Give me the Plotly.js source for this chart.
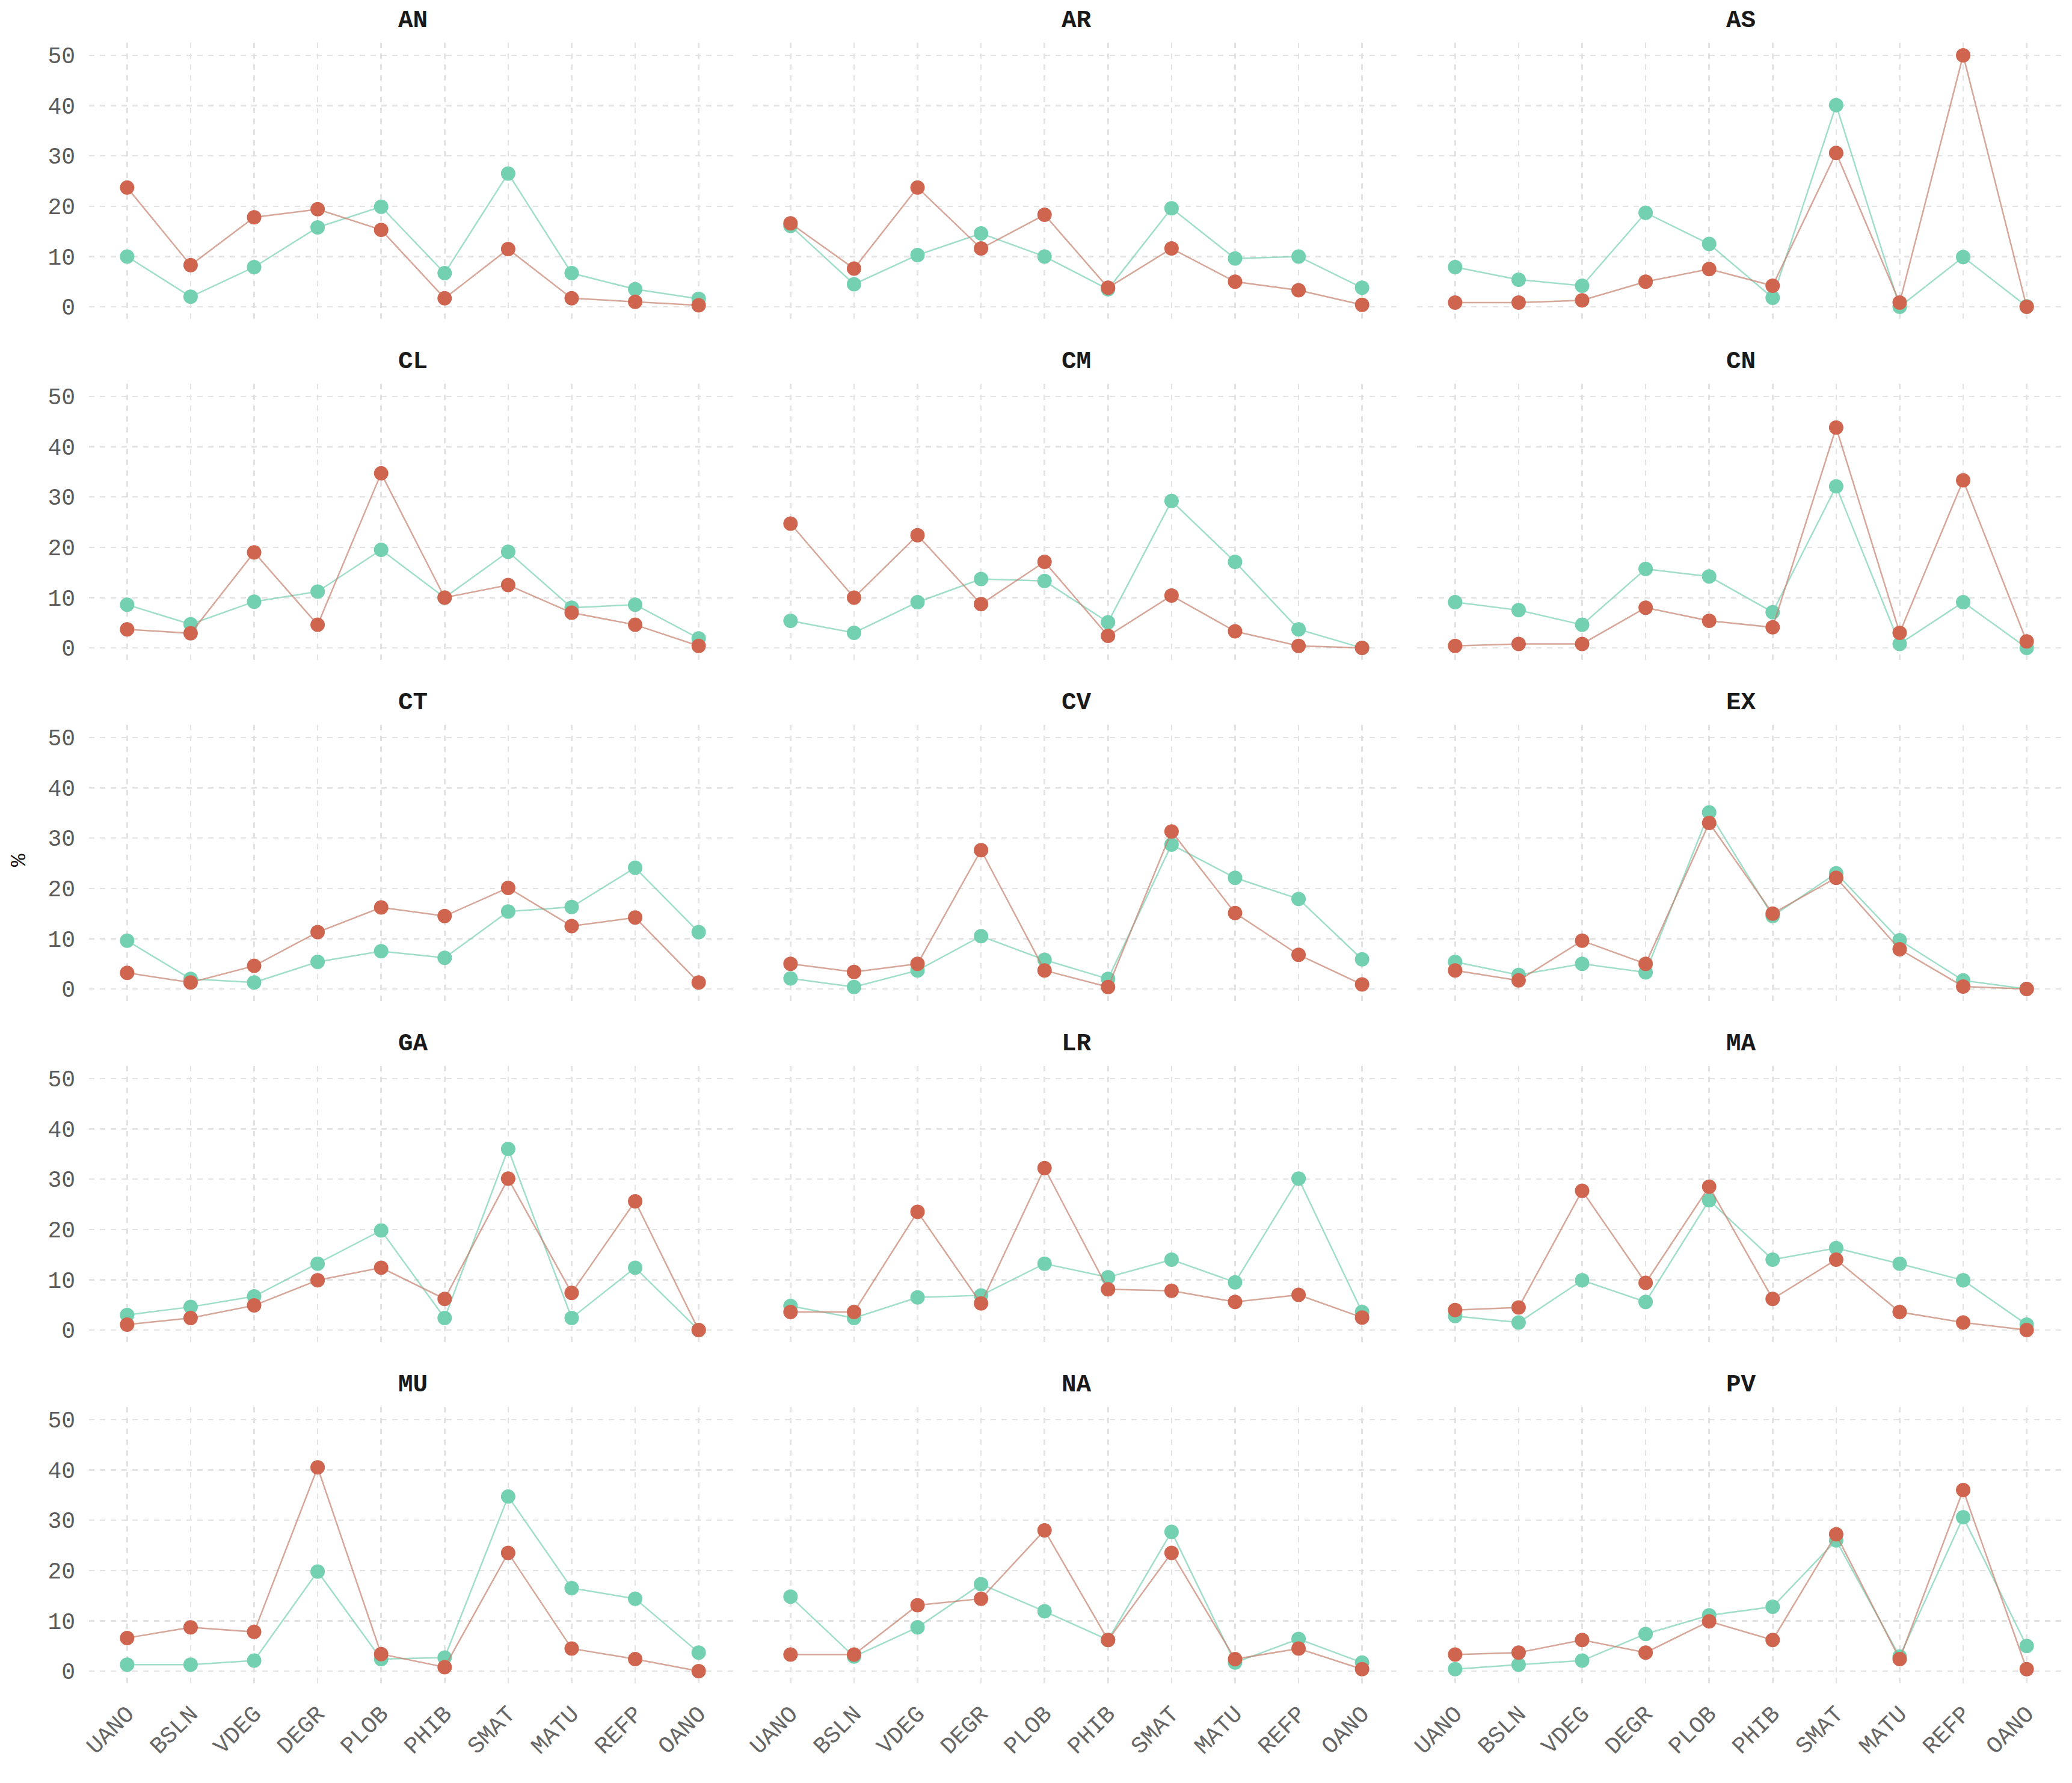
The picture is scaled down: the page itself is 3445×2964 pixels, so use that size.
<!DOCTYPE html>
<html>
<head>
<meta charset="utf-8">
<script src="https://cdn.plot.ly/plotly-3.0.1.min.js"></script>
<style>
  html, body { margin: 0; padding: 0; background: #ffffff; }
  #chart { width: 3445px; height: 2964px; }
</style>
</head>
<body>
<div id="chart"></div>
<script>
const panelNames = ["AN", "AR", "AS", "CL", "CM", "CN", "CT", "CV", "EX", "GA", "LR", "MA", "MU", "NA", "PV"];
const categories = ["UANO", "BSLN", "VDEG", "DEGR", "PLOB", "PHIB", "SMAT", "MATU", "REFP", "OANO"];
const yTicks = [0, 10, 20, 30, 40, 50];

// teal series, one row per panel
const tealValues = [
  [10.0, 2.0, 7.9, 15.8, 19.9, 6.7, 26.5, 6.7, 3.5, 1.6],
  [16.1, 4.5, 10.3, 14.6, 10.0, 3.5, 19.6, 9.6, 10.0, 3.8],
  [7.9, 5.4, 4.2, 18.7, 12.5, 1.8, 40.1, 0.0, 9.9, 0.1],
  [8.6, 4.7, 9.2, 11.2, 19.5, 10.0, 19.1, 8.0, 8.6, 1.9],
  [5.4, 3.0, 9.1, 13.7, 13.3, 5.1, 29.2, 17.1, 3.7, 0.0],
  [9.1, 7.5, 4.6, 15.7, 14.2, 7.1, 32.1, 0.8, 9.1, 0.0],
  [9.6, 2.0, 1.3, 5.4, 7.5, 6.2, 15.4, 16.3, 24.1, 11.3],
  [2.1, 0.4, 3.7, 10.5, 5.8, 2.0, 28.7, 22.1, 17.9, 5.9],
  [5.4, 2.8, 5.0, 3.3, 35.1, 14.5, 23.0, 9.7, 1.7, 0.0],
  [3.0, 4.6, 6.7, 13.2, 19.8, 2.4, 36.0, 2.4, 12.4, 0.0],
  [4.8, 2.4, 6.5, 6.9, 13.2, 10.5, 14.0, 9.5, 30.1, 3.6],
  [2.8, 1.5, 9.9, 5.6, 25.8, 14.0, 16.3, 13.2, 9.9, 1.1],
  [1.3, 1.3, 2.1, 19.8, 2.4, 2.7, 34.7, 16.5, 14.4, 3.7],
  [14.8, 2.9, 8.7, 17.3, 11.9, 6.2, 27.7, 1.7, 6.4, 1.7],
  [0.4, 1.3, 2.1, 7.4, 11.1, 12.8, 26.0, 2.9, 30.6, 5.0]
];

// red series, one row per panel
const redValues = [
  [23.7, 8.3, 17.8, 19.4, 15.3, 1.7, 11.5, 1.7, 1.0, 0.3],
  [16.6, 7.6, 23.7, 11.6, 18.3, 3.8, 11.6, 5.0, 3.3, 0.4],
  [0.85, 0.85, 1.3, 5.0, 7.5, 4.2, 30.6, 0.85, 50.0, 0.0],
  [3.7, 2.9, 19.0, 4.6, 34.7, 10.0, 12.5, 7.0, 4.6, 0.4],
  [24.7, 10.0, 22.4, 8.7, 17.1, 2.4, 10.4, 3.3, 0.4, 0.0],
  [0.4, 0.8, 0.8, 8.0, 5.4, 4.1, 43.8, 3.0, 33.3, 1.3],
  [3.2, 1.3, 4.6, 11.3, 16.2, 14.5, 20.1, 12.5, 14.2, 1.3],
  [5.0, 3.4, 5.0, 27.6, 3.7, 0.4, 31.3, 15.1, 6.8, 0.9],
  [3.7, 1.7, 9.6, 5.0, 33.0, 15.0, 22.1, 7.9, 0.5, 0.0],
  [1.1, 2.4, 4.9, 9.9, 12.4, 6.2, 30.1, 7.4, 25.6, 0.0],
  [3.6, 3.6, 23.5, 5.3, 32.2, 8.1, 7.8, 5.6, 7.0, 2.5],
  [4.0, 4.5, 27.7, 9.4, 28.5, 6.2, 14.0, 3.6, 1.5, 0.0],
  [6.6, 8.7, 7.8, 40.5, 3.4, 0.8, 23.5, 4.5, 2.4, 0.0],
  [3.3, 3.3, 13.1, 14.4, 28.0, 6.2, 23.5, 2.4, 4.5, 0.4],
  [3.3, 3.7, 6.2, 3.7, 9.9, 6.2, 27.2, 2.4, 36.0, 0.4]
];

document.addEventListener("DOMContentLoaded", function () {
  const W = 3445;
  const H = 2964;
  const FONT = "Liberation Mono, Courier New, monospace";

  // panel geometry in pixels
  const colLeft = [148, 1251, 2356];
  const colWidth = 1077;
  const rowTop0 = 71;
  const rowStep = 567;
  const rowHeight = 460;

  const gridStyle = {
    showgrid: true,
    gridcolor: "#e3e3e3",
    griddash: "dash",
    gridwidth: 2.5,
    zeroline: false,
    showline: false,
    ticks: "",
    fixedrange: true,
  };

  const traces = [];
  const annotations = [];
  const layout = {
    width: W,
    height: H,
    margin: { l: 0, r: 0, t: 0, b: 0 },
    paper_bgcolor: "#ffffff",
    plot_bgcolor: "#ffffff",
    showlegend: false,
    font: { family: FONT, size: 38, color: "#4d4d4d" },
  };

  panelNames.forEach(function (name, i) {
    const r = Math.floor(i / 3);
    const c = i % 3;
    const sfx = i === 0 ? "" : String(i + 1);
    const left = colLeft[c];
    const top = rowTop0 + r * rowStep;

    layout["xaxis" + sfx] = Object.assign({}, gridStyle, {
      domain: [left / W, (left + colWidth) / W],
      anchor: "y" + sfx,
      type: "category",
      categoryorder: "array",
      categoryarray: categories,
      range: [-0.6, categories.length - 0.4],
      showticklabels: r === 4,
      tickangle: -45,
      ticklabelstandoff: 18,
      tickfont: { family: FONT, size: 39, color: "#666666" },
    });
    layout["yaxis" + sfx] = Object.assign({}, gridStyle, {
      domain: [1 - (top + rowHeight) / H, 1 - top / H],
      anchor: "x" + sfx,
      range: [-2.5, 52.5],
      tickvals: yTicks,
      showticklabels: c === 0,
      ticklabelstandoff: 22,
      tickfont: { family: FONT, size: 38, color: "#5a5a5a" },
    });

    traces.push({
      type: "scatter",
      mode: "lines+markers",
      x: categories,
      y: tealValues[i],
      xaxis: "x" + sfx,
      yaxis: "y" + sfx,
      line: { color: "rgba(120,208,180,0.7)", width: 2.5 },
      marker: { color: "#73d0b1", size: 24 },
      hoverinfo: "skip",
    });
    traces.push({
      type: "scatter",
      mode: "lines+markers",
      x: categories,
      y: redValues[i],
      xaxis: "x" + sfx,
      yaxis: "y" + sfx,
      line: { color: "rgba(196,128,110,0.7)", width: 2.5 },
      marker: { color: "#d0654f", size: 24 },
      hoverinfo: "skip",
    });

    annotations.push({
      text: "<b>" + name + "</b>",
      xref: "paper",
      yref: "paper",
      x: (left + colWidth / 2) / W,
      y: 1 - (top - 37) / H,
      xanchor: "center",
      yanchor: "middle",
      showarrow: false,
      font: { family: FONT, size: 41, color: "#1a1a1a" },
    });
  });

  annotations.push({
    text: "%",
    xref: "paper",
    yref: "paper",
    x: 33 / W,
    y: 1 - 1430 / H,
    xanchor: "center",
    yanchor: "middle",
    textangle: -90,
    showarrow: false,
    font: { family: FONT, size: 36, color: "#1a1a1a" },
  });

  layout.annotations = annotations;

  Plotly.newPlot("chart", traces, layout, {
    displayModeBar: false,
    staticPlot: true,
  });
});
</script>
</body>
</html>
